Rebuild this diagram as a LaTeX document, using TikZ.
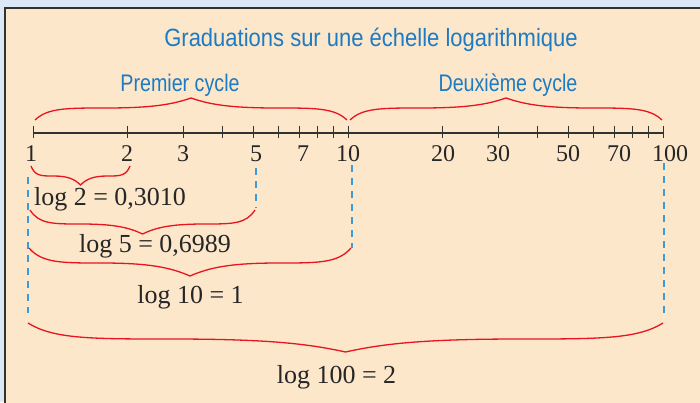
\documentclass[tikz,border=0pt]{standalone}
\usepackage{fontspec}
\setmainfont{Liberation Serif}
\newfontfamily\condsans[FakeStretch=0.82]{Liberation Sans}
\newfontfamily\titlesans[FakeStretch=0.88]{Liberation Sans}
\definecolor{outerblue}{RGB}{220,232,246}
\definecolor{panel}{RGB}{253,231,203}
\definecolor{titleblue}{RGB}{28,123,194}
\definecolor{dashblue}{RGB}{62,154,216}
\definecolor{bracered}{RGB}{232,20,30}
\definecolor{axisgray}{RGB}{50,50,50}
\tikzset{
  bracestyle/.style={draw=bracered,line width=1.3pt},
  guide/.style={draw=dashblue,line width=1.2pt,dash pattern=on 7pt off 6pt},
  ticklab/.style={anchor=base,font=\fontsize{24}{24}\selectfont,text=black!85,inner sep=0pt},
  loglab/.style={anchor=base,font=\fontsize{26}{26}\selectfont,text=black!85,inner sep=0pt},
  headlab/.style={anchor=base,font=\condsans\fontsize{24}{24}\selectfont,text=titleblue,inner sep=0pt},
}
\newcommand\mybrace[5]{%
  \pgfmathsetmacro\bw{(#2-#1)/2}%
  \pgfmathsetmacro\bm{(#1+#2)/2}%
  \draw[bracestyle] (#1,#3)
    .. controls (#1+0.08*\bw,#4) and (#1+0.2*\bw,#4) .. (#1+0.45*\bw,#4)
    .. controls (#1+0.75*\bw,#4) and (\bm-0.12*\bw,#4+0.35*#5-0.35*#4) .. (\bm,#5)
    .. controls (\bm+0.12*\bw,#4+0.35*#5-0.35*#4) and (#2-0.75*\bw,#4) .. (#2-0.45*\bw,#4)
    .. controls (#2-0.2*\bw,#4) and (#2-0.08*\bw,#4) .. (#2,#3);
}
\begin{document}
\begin{tikzpicture}[x=1pt,y=-1pt]
\useasboundingbox (0,0) rectangle (700,402);
\fill[outerblue] (0,0) rectangle (700,402);
\fill[panel] (5,8) rectangle (704,406);
\draw[axisgray,line width=2pt] (5,406) -- (5,8) -- (704,8);

% title and cycle labels
\node[headlab,font=\titlesans\fontsize{25}{25}\selectfont] (title) at (371,46) {Graduations sur une échelle logarithmique};
\node[headlab] (c1) at (180,91) {Premier cycle};
\node[headlab] (c2) at (508,91) {Deuxième cycle};

% axis
\coordinate (a1) at (33,133);
\coordinate (a100) at (663,133);
\draw[axisgray,line width=1.1pt] (a1) -- (a100);
\foreach \i in {1,...,10} {
  \pgfmathsetmacro\xx{33+315*ln(\i)/ln(10)}
  \draw[axisgray,line width=1pt] (\xx,125.5) -- (\xx,137.5);
}
\foreach \i in {20,30,...,100} {
  \pgfmathsetmacro\xx{33+315*ln(\i)/ln(10)}
  \draw[axisgray,line width=1pt] (\xx,125.5) -- (\xx,137.5);
}
% tick labels
\node[ticklab] (n1) at (31,161) {1};
\node[ticklab] (n2) at (127,161) {2};
\node[ticklab] (n3) at (183,161) {3};
\node[ticklab] (n5) at (256,161) {5};
\node[ticklab] (n7) at (303,161) {7};
\node[ticklab] (n10) at (348,161) {10};
\node[ticklab] (n20) at (443,161) {20};
\node[ticklab] (n30) at (498,161) {30};
\node[ticklab] (n50) at (568,161) {50};
\node[ticklab] (n70) at (619,161) {70};
\node[ticklab] (n100) at (670,161) {100};

% top braces
\mybrace{35}{347}{120}{108}{98}
\mybrace{350}{662}{120}{108}{98}

% guides
\draw[guide] (28,177) -- (28,313);
\draw[guide] (256,168) -- (256,208);
\draw[guide] (352,165) -- (352,248);
\draw[guide] (664,163) -- (664,315);

% bottom braces
\mybrace{31}{130}{166}{176}{185}
\mybrace{30}{255}{210}{224}{234}
\mybrace{29}{351}{248}{263}{276}
\mybrace{28}{663}{323}{339}{352}

% log labels
\node[loglab] (l2) at (110,205) {log 2 = 0,3010};
\node[loglab] (l5) at (155,252) {log 5 = 0,6989};
\node[loglab] (l10) at (190.5,303) {log 10 = 1};
\node[loglab] (l100) at (336.5,383) {log 100 = 2};
\end{tikzpicture}
\end{document}
